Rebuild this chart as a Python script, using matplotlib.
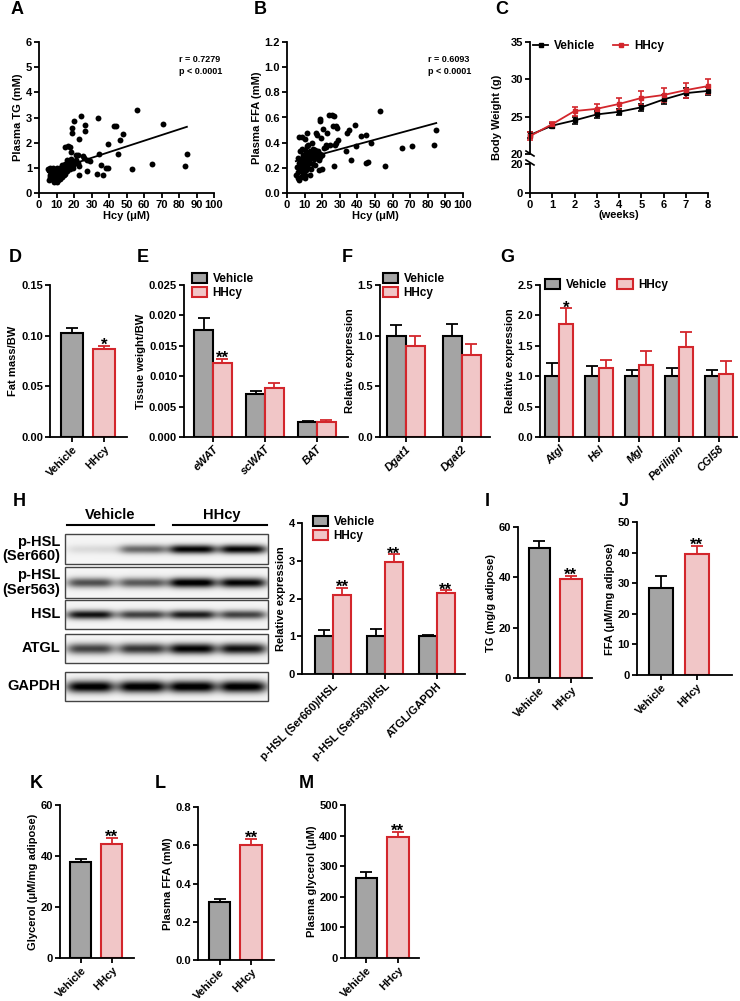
import numpy as np
import matplotlib

matplotlib.use("Agg")

import matplotlib.pyplot as plt  # noqa: E402
from matplotlib.patches import Patch, Rectangle  # noqa: E402
from matplotlib.lines import Line2D  # noqa: E402

W, H = 740, 1001
GREY = "#a4a4a4"
PINK = "#f1c6c7"
RED = "#d3262c"

plt.rcParams["font.family"] = ["Liberation Sans", "DejaVu Sans"]
plt.rcParams["font.weight"] = "bold"
plt.rcParams["axes.labelweight"] = "bold"
plt.rcParams["axes.linewidth"] = 1.3
plt.rcParams["xtick.major.width"] = 1.3
plt.rcParams["ytick.major.width"] = 1.3
plt.rcParams["xtick.major.size"] = 3.5
plt.rcParams["ytick.major.size"] = 3.5
plt.rcParams["xtick.labelsize"] = 8
plt.rcParams["ytick.labelsize"] = 8
plt.rcParams["axes.labelsize"] = 8

# ---- A: Hcy vs plasma TG ----
a_hcy = [55.8, 70.7, 24, 20, 33.5, 26.3, 26, 18.7, 18.7, 43, 44, 48.2, 23, 39.6, 46.3,
         45.3, 34.5, 14.9, 16.8, 17.7, 18, 21, 22, 25.3, 25.7, 27.6, 29.1, 27.2, 23, 23,
         33, 35.4, 36.4, 38.3, 39.2, 53, 64.8, 83.4, 84.8,
         5, 5.5, 6, 6, 6.5, 7, 7, 7.5, 7.5, 8, 8, 8.5, 8.5, 9, 9, 9.5, 9.5, 10, 10, 10,
         10.5, 10.5, 11, 11, 11.5, 11.5, 12, 12, 12.5, 13, 13, 13.5, 14, 14, 14.5, 15,
         15, 15.5, 16, 16, 16.5, 17, 17.5, 18, 18.5, 19, 19.5, 20, 21, 22, 12, 8, 6, 13]
a_tg = [3.28, 2.75, 3.06, 2.85, 2.98, 2.72, 2.45, 2.58, 2.38, 2.65, 2.66, 2.36, 2.16, 1.96, 2.09,
        1.54, 1.54, 1.83, 1.87, 1.83, 1.63, 1.52, 1.52, 1.46, 1.39, 1.3, 1.26, 0.87, 0.7, 1.06,
        0.77, 1.1, 0.73, 1.0, 0.99, 0.97, 1.17, 1.06, 1.56,
        0.95, 0.5, 0.88, 0.7, 0.62, 0.8, 0.55, 0.95, 0.72, 0.6, 0.85, 0.45, 0.75, 0.65, 0.92,
        0.5, 0.8, 1.0, 0.7, 0.42, 0.6, 0.88, 0.75, 0.5, 0.95, 0.65, 0.8, 0.55, 0.7, 0.9,
        0.62, 0.78, 0.7, 1.0, 0.85, 0.75, 1.15, 0.95, 1.3, 0.88, 1.05, 1.2, 0.95, 1.1, 1.35,
        1.25, 1.0, 1.15, 1.3, 1.2, 1.0, 1.0, 1.0, 1.1]
fit_a_x = [5, 84.5]
fit_a_y = [0.83, 2.63]

# ---- B: Hcy vs plasma FFA ----
b_hcy = [52.8, 84.8, 83.4, 70.9, 65.1, 55.6, 44.8, 46.3, 45.1, 42, 48, 38.5, 35.2, 34.3, 33.3,
         36.2, 39.4, 26.7, 23.8, 25.7, 26.7, 26.3, 27.6, 28.2, 18.7, 19, 20.2, 16.2, 17.3, 19.6,
         22.5, 24.4, 27, 28, 29.1, 22.3, 20, 18, 13.3, 10.5, 7, 8.6, 11.4,
         5, 5.5, 6, 6, 6.5, 7, 7, 7.5, 7.5, 8, 8, 8.5, 8.5, 9, 9, 9.5, 9.5, 10, 10, 10,
         10.5, 11, 11, 11.5, 11.5, 12, 12, 12.5, 13, 13, 13.5, 14, 14.5, 14.5, 15, 15.5,
         16, 16, 16.5, 17, 17.5, 18, 18.5, 19, 20, 21, 22, 10, 12, 14]
b_ffa = [0.652, 0.503, 0.379, 0.371, 0.36, 0.215, 0.241, 0.246, 0.461, 0.45, 0.397, 0.543, 0.498,
         0.477, 0.331, 0.265, 0.374, 0.215, 0.617, 0.622, 0.609, 0.53, 0.532, 0.517, 0.59, 0.572,
         0.511, 0.477, 0.464, 0.437, 0.477, 0.384, 0.384, 0.397, 0.418, 0.366, 0.193, 0.18, 0.14,
         0.146, 0.445, 0.445, 0.479,
         0.14, 0.21, 0.12, 0.28, 0.17, 0.1, 0.24, 0.33, 0.19, 0.13, 0.27, 0.22, 0.35, 0.16, 0.3,
         0.2, 0.25, 0.34, 0.12, 0.28, 0.22, 0.18, 0.31, 0.26, 0.37, 0.2, 0.3, 0.24, 0.33, 0.27,
         0.19, 0.29, 0.35, 0.23, 0.31, 0.27, 0.34, 0.22, 0.3, 0.28, 0.33, 0.26, 0.31, 0.29, 0.3,
         0.36, 0.38, 0.43, 0.38, 0.4]
fit_b_x = [5, 84.8]
fit_b_y = [0.253, 0.556]

# ---- C: body weight ----
weeks = [0, 1, 2, 3, 4, 5, 6, 7, 8]
bw_veh = [22.55, 23.8, 24.5, 25.3, 25.65, 26.25, 27.3, 28.15, 28.45]
bw_veh_err = [0.4, 0.3, 0.5, 0.5, 0.4, 0.5, 0.6, 0.7, 0.5]
bw_hhcy = [22.4, 24.0, 25.75, 26.05, 26.7, 27.5, 27.9, 28.55, 29.1]
bw_hhcy_err = [0.5, 0.35, 0.6, 0.6, 0.8, 0.9, 1.0, 1.0, 1.0]

groups = ["Vehicle", "HHcy"]

# ---- D ----
fat_bw = [0.103, 0.087]
fat_bw_err = [0.005, 0.003]

# ---- E ----
tissues = ["eWAT", "scWAT", "BAT"]
tis_veh = [0.0176, 0.0070, 0.0024]
tis_veh_err = [0.0020, 0.0005, 0.0003]
tis_hhcy = [0.0122, 0.0080, 0.0025]
tis_hhcy_err = [0.0007, 0.0009, 0.0003]

# ---- F ----
dgat = ["Dgat1", "Dgat2"]
dgat_veh = [1.0, 1.0]
dgat_veh_err = [0.11, 0.12]
dgat_hhcy = [0.90, 0.81]
dgat_hhcy_err = [0.10, 0.11]

# ---- G ----
lip_genes = ["Atgl", "Hsl", "Mgl", "Perilipin", "CGI58"]
lip_veh = [1.0, 1.0, 1.0, 1.0, 1.0]
lip_veh_err = [0.21, 0.17, 0.10, 0.13, 0.11]
lip_hhcy = [1.86, 1.13, 1.19, 1.48, 1.03]
lip_hhcy_err = [0.26, 0.14, 0.22, 0.24, 0.22]

# ---- H ----
wb_ratios = ["p-HSL (Ser660)/HSL", "p-HSL (Ser563)/HSL", "ATGL/GAPDH"]
wb_veh = [1.0, 1.0, 1.0]
wb_veh_err = [0.17, 0.20, 0.04]
wb_hhcy = [2.10, 2.96, 2.15]
wb_hhcy_err = [0.19, 0.21, 0.07]
blot_rows = ["p-HSL\n(Ser660)", "p-HSL\n(Ser563)", "HSL", "ATGL", "GAPDH"]
band_intensity = [[0.10, 0.55, 0.95, 0.95],
                  [0.65, 0.60, 1.00, 0.95],
                  [0.90, 0.70, 0.85, 0.70],
                  [0.70, 0.75, 0.95, 0.90],
                  [1.00, 1.00, 1.00, 1.00]]

# ---- I..M ----
tg_adipose = [51.8, 39.3]
tg_adipose_err = [2.5, 1.2]
ffa_adipose = [28.3, 39.7]
ffa_adipose_err = [4.1, 2.5]
gly_adipose = [37.8, 44.9]
gly_adipose_err = [1.0, 2.3]
plasma_ffa = [0.305, 0.600]
plasma_ffa_err = [0.015, 0.033]
plasma_gly = [260, 395]
plasma_gly_err = [22, 18]

fig = plt.figure(figsize=(W / 100, H / 100), dpi=100)


def add_ax(l, t, r, b):
    ax = fig.add_axes([l / W, 1 - b / H, (r - l) / W, (b - t) / H])
    ax.spines[["top", "right"]].set_visible(False)
    ax.tick_params(pad=1.5)
    return ax


def ftext(x, y, s, **kw):
    fig.text(x / W, 1 - y / H, s, **kw)


def fig_legend(ax, x, y, ncol=1, **kw):
    handles = [Patch(facecolor=GREY, edgecolor="black", linewidth=1.5),
               Patch(facecolor=PINK, edgecolor=RED, linewidth=1.5)]
    ax.legend(handles, groups, loc="upper left", bbox_to_anchor=(x / W, 1 - y / H),
              bbox_transform=fig.transFigure, frameon=False, ncol=ncol, fontsize=8.5,
              borderaxespad=0, borderpad=0, handlelength=1.3, handleheight=0.9,
              handletextpad=0.45, labelspacing=0.2, columnspacing=0.9, **kw)


def draw_bars(ax, xs, vals, errs, width, face, edge):
    ax.bar(xs, vals, width, color=face, edgecolor=edge, linewidth=1.5, zorder=2)
    ax.errorbar(xs, vals, yerr=[np.zeros(len(vals)), errs], fmt="none", ecolor=edge,
                elinewidth=1.3, capsize=4, capthick=1.3, zorder=3)


def star(ax, x, y, s):
    ax.annotate(s, (x, y), xytext=(0, -3), textcoords="offset points", ha="center",
                va="baseline", fontsize=12, annotation_clip=False)


def grouped(ax, cats, v, ve, h, he, width, italic=True):
    x = np.arange(len(cats))
    draw_bars(ax, x - width / 2, v, ve, width, GREY, "black")
    draw_bars(ax, x + width / 2, h, he, width, PINK, RED)
    ax.set_xticks(x)
    ax.set_xticklabels(cats, rotation=45, ha="right", rotation_mode="anchor",
                       style="italic" if italic else "normal")
    return x


def pair(ax, vals, errs, width=0.68):
    draw_bars(ax, [0], vals[:1], errs[:1], width, GREY, "black")
    draw_bars(ax, [1], vals[1:], errs[1:], width, PINK, RED)
    ax.set_xticks([0, 1])
    ax.set_xticklabels(groups, rotation=45, ha="right", rotation_mode="anchor")


# ---------- A ----------
ax = add_ax(39, 42, 214, 193)
ax.scatter(a_hcy, a_tg, s=18, c="black", linewidths=0, zorder=3, clip_on=False)
ax.plot(fit_a_x, fit_a_y, color="black", lw=1.3)
ax.set_xlim(0, 100)
ax.set_ylim(0, 6)
ax.set_xticks(range(0, 101, 10))
ax.set_yticks(range(0, 7))
ax.set_xlabel("Hcy (μM)", labelpad=1)
ax.set_ylabel("Plasma TG (mM)", labelpad=2)
ftext(179, 60, "r = 0.7279", fontsize=6.5, va="center")
ftext(179, 72, "p < 0.0001", fontsize=6.5, va="center")

# ---------- B ----------
ax = add_ax(287, 42, 463, 193)
ax.scatter(b_hcy, b_ffa, s=18, c="black", linewidths=0, zorder=3, clip_on=False)
ax.plot(fit_b_x, fit_b_y, color="black", lw=1.3)
ax.set_xlim(0, 100)
ax.set_ylim(0, 1.2)
ax.set_xticks(range(0, 101, 10))
ax.set_yticks(np.arange(0, 1.21, 0.2))
ax.set_yticklabels([f"{v:.1f}" for v in np.arange(0, 1.21, 0.2)])
ax.set_xlabel("Hcy (μM)", labelpad=1)
ax.set_ylabel("Plasma FFA (mM)", labelpad=2)
ftext(428, 60, "r = 0.6093", fontsize=6.5, va="center")
ftext(428, 72, "p < 0.0001", fontsize=6.5, va="center")

# ---------- C ----------
axc = add_ax(530, 42, 708, 154)
axc2 = add_ax(530, 164, 708, 193)
for vals, errs, col in [(bw_veh, bw_veh_err, "black"), (bw_hhcy, bw_hhcy_err, RED)]:
    cont = axc.errorbar(weeks, vals, yerr=errs, color=col, marker="s", ms=3, lw=1.3,
                        elinewidth=1.2, capsize=2.5, capthick=1.2)
    for art in cont.get_children():
        art.set_clip_on(False)
axc.set_xlim(0, 8)
axc.set_ylim(20, 35)
axc.set_yticks([20, 25, 30, 35])
axc.spines["bottom"].set_visible(False)
axc.tick_params(axis="x", bottom=False, labelbottom=False)
axc.set_ylabel("Body Weight (g)", labelpad=2)
axc.yaxis.set_label_coords(-0.155, 0.33)
axc.legend([Line2D([], [], color="black", marker="s", ms=3, lw=1.3),
            Line2D([], [], color=RED, marker="s", ms=3, lw=1.3)], groups,
           loc="upper left", bbox_to_anchor=(533 / W, 1 - 40 / H), bbox_transform=fig.transFigure,
           ncol=2, frameon=False, fontsize=8.5, borderaxespad=0, borderpad=0,
           handlelength=1.3, handletextpad=0.5, columnspacing=1.5)
axc2.set_xlim(0, 8)
axc2.set_ylim(0, 20)
axc2.set_yticks([0, 20])
axc2.set_xticks(weeks)
axc2.set_xlabel("(weeks)", labelpad=0)
for y0 in (151, 160):
    fig.add_artist(Line2D([526 / W, 534 / W], [1 - y0 / H, 1 - (y0 + 5) / H],
                          color="black", lw=1.2))

# ---------- D ----------
ax = add_ax(50, 285, 127, 437)
pair(ax, fat_bw, fat_bw_err)
ax.set_xlim(-0.69, 1.72)
ax.set_ylim(0, 0.15)
ax.set_yticks([0, 0.05, 0.10, 0.15])
ax.set_yticklabels(["0.00", "0.05", "0.10", "0.15"])
ax.set_ylabel("Fat mass/BW", labelpad=2)
star(ax, 1, fat_bw[1] + fat_bw_err[1], "*")

# ---------- E ----------
ax = add_ax(184, 285, 348, 437)
x = grouped(ax, tissues, tis_veh, tis_veh_err, tis_hhcy, tis_hhcy_err, 0.36)
ax.set_xlim(-0.56, 2.6)
ax.set_ylim(0, 0.025)
ax.set_yticks(np.arange(0, 0.0251, 0.005))
ax.set_yticklabels([f"{v:.3f}" for v in np.arange(0, 0.0251, 0.005)])
ax.set_ylabel("Tissue weight/BW", labelpad=2)
star(ax, 0.18, tis_hhcy[0] + tis_hhcy_err[0], "**")
fig_legend(ax, 192, 273)

# ---------- F ----------
ax = add_ax(380, 285, 490, 437)
grouped(ax, dgat, dgat_veh, dgat_veh_err, dgat_hhcy, dgat_hhcy_err, 0.34)
ax.set_xlim(-0.46, 1.5)
ax.set_ylim(0, 1.5)
ax.set_yticks([0, 0.5, 1.0, 1.5])
ax.set_yticklabels(["0.0", "0.5", "1.0", "1.5"])
ax.set_ylabel("Relative expression", labelpad=2)
fig_legend(ax, 383, 273)

# ---------- G ----------
ax = add_ax(540, 285, 737, 437)
grouped(ax, lip_genes, lip_veh, lip_veh_err, lip_hhcy, lip_hhcy_err, 0.35)
ax.set_xlim(-0.475, 4.45)
ax.set_ylim(0, 2.5)
ax.set_yticks(np.arange(0, 2.51, 0.5))
ax.set_yticklabels([f"{v:.1f}" for v in np.arange(0, 2.51, 0.5)])
ax.set_ylabel("Relative expression", labelpad=2)
star(ax, 0.175, lip_hhcy[0] + lip_hhcy_err[0], "*")
fig_legend(ax, 545, 279, ncol=2)

# ---------- H blot ----------
axb = add_ax(0, 500, 300, 710)
axb.set_xlim(0, 300)
axb.set_ylim(710, 500)
axb.axis("off")
box_l, box_r = 65, 268
boxes = [(534, 564), (567, 598), (600, 629), (634, 663), (672, 701)]
band_sigma = [4.5, 5.0, 4.5, 5.5, 6.0]
lanes = [90, 142, 192, 243]
xs = np.arange(box_l, box_r, 0.5)
for (top, bot), inten, sig, lab in zip(boxes, band_intensity, band_sigma, blot_rows):
    ys = np.arange(top, bot, 0.5)
    X, Y = np.meshgrid(xs, ys)
    yc = (top + bot) / 2
    img = np.full(X.shape, 0.04)
    for c, a in zip(lanes, inten):
        fx = 1 / (1 + ((X - c) / 22) ** 6)
        fy = np.exp(-((Y - yc) / sig) ** 2)
        img += a * fx * fy
    axb.imshow(img, extent=[box_l, box_r, bot, top], cmap="gray_r", vmin=0, vmax=1.0,
               aspect="auto", interpolation="bilinear", zorder=1)
    axb.add_patch(Rectangle((box_l, top), box_r - box_l, bot - top, fill=False,
                            edgecolor="#444444", lw=1.0, zorder=2))
    axb.text(60, yc, lab, ha="right", va="center", fontsize=10.5, linespacing=1.05)
axb.plot([67, 154], [525, 525], color="black", lw=1.5)
axb.plot([173, 267], [525, 525], color="black", lw=1.5)
axb.text(110, 515, "Vehicle", ha="center", va="center", fontsize=10.5)
axb.text(222, 515, "HHcy", ha="center", va="center", fontsize=10.5)

# ---------- H bars ----------
ax = add_ax(302, 523, 465, 674)
grouped(ax, wb_ratios, wb_veh, wb_veh_err, wb_hhcy, wb_hhcy_err, 0.34, italic=False)
ax.set_xlim(-0.6, 2.54)
ax.set_ylim(0, 4)
ax.set_yticks(range(5))
ax.set_ylabel("Relative expression", labelpad=2)
for i in range(3):
    star(ax, i + 0.17, wb_hhcy[i] + wb_hhcy_err[i], "**")
fig_legend(ax, 313, 516)

# ---------- I ----------
ax = add_ax(518, 527, 592, 678)
pair(ax, tg_adipose, tg_adipose_err)
ax.set_xlim(-0.68, 1.67)
ax.set_ylim(0, 60)
ax.set_yticks([0, 20, 40, 60])
ax.set_ylabel("TG (mg/g adipose)", labelpad=2)
star(ax, 1, tg_adipose[1] + tg_adipose_err[1], "**")

# ---------- J ----------
ax = add_ax(637, 522, 732, 675)
pair(ax, ffa_adipose, ffa_adipose_err)
ax.set_xlim(-0.68, 2.0)
ax.set_ylim(0, 50)
ax.set_yticks(range(0, 51, 10))
ax.set_ylabel("FFA (μM/mg adipose)", labelpad=2)
star(ax, 1, ffa_adipose[1] + ffa_adipose_err[1], "**")

# ---------- K ----------
ax = add_ax(60, 805, 134, 958)
pair(ax, gly_adipose, gly_adipose_err)
ax.set_xlim(-0.68, 1.72)
ax.set_ylim(0, 60)
ax.set_yticks([0, 20, 40, 60])
ax.set_ylabel("Glycerol (μM/mg adipose)", labelpad=2)
star(ax, 1, gly_adipose[1] + gly_adipose_err[1], "**")

# ---------- L ----------
ax = add_ax(198, 807, 274, 960)
pair(ax, plasma_ffa, plasma_ffa_err)
ax.set_xlim(-0.68, 1.72)
ax.set_ylim(0, 0.8)
ax.set_yticks([0, 0.2, 0.4, 0.6, 0.8])
ax.set_yticklabels(["0.0", "0.2", "0.4", "0.6", "0.8"])
ax.set_ylabel("Plasma FFA (mM)", labelpad=2)
star(ax, 1, plasma_ffa[1] + plasma_ffa_err[1], "**")

# ---------- M ----------
ax = add_ax(345, 805, 419, 958)
pair(ax, plasma_gly, plasma_gly_err)
ax.set_xlim(-0.68, 1.67)
ax.set_ylim(0, 500)
ax.set_yticks(range(0, 501, 100))
ax.set_ylabel("Plasma glycerol (μM)", labelpad=2)
star(ax, 1, plasma_gly[1] + plasma_gly_err[1], "**")

# panel letters
for letter, cx, cy in [("A", 17, 9), ("B", 260, 9), ("C", 502, 9), ("D", 15, 258),
                       ("E", 143, 258), ("F", 347, 258), ("G", 507, 258), ("H", 19, 502),
                       ("I", 487, 502), ("J", 624, 502), ("K", 36, 784), ("L", 160, 784),
                       ("M", 306, 784)]:
    ftext(cx, cy, letter, fontsize=13, ha="center", va="center")

fig.savefig("out.png", dpi=100)
